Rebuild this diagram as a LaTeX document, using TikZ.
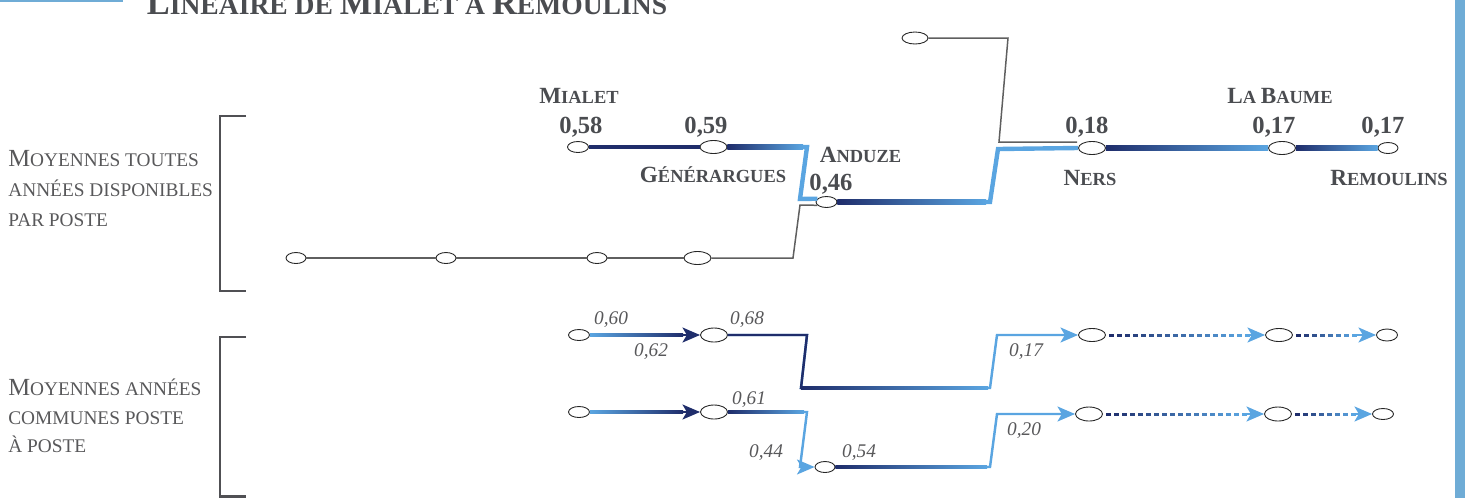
\documentclass[tikz,border=0pt]{standalone}
\usepackage{fontspec}
\setmainfont{Liberation Serif}
\usetikzlibrary{arrows.meta,calc,shapes.geometric}
\definecolor{rivdark}{RGB}{31,45,107}
\definecolor{rivlight}{RGB}{90,165,225}
\definecolor{barblue}{RGB}{111,172,214}
\definecolor{textgray}{RGB}{74,76,80}
\definecolor{labelgray}{RGB}{88,88,90}
\definecolor{linegray}{RGB}{95,95,95}
\definecolor{bracketgray}{RGB}{80,80,84}
% initials of the small caps
\newcommand{\initT}[1]{{\fontsize{19.6pt}{22pt}\selectfont #1}}
\newcommand{\initS}[1]{{\fontsize{13.2pt}{15pt}\selectfont #1}}
\newcommand{\initL}[1]{{\fontsize{14pt}{16pt}\selectfont #1}}

\begin{document}
\begin{tikzpicture}[x=0.02cm, y=-0.02cm,
  stn/.style={ellipse, draw=black!85, fill=white, line width=0.5pt, inner sep=0pt, minimum width=0.42cm, minimum height=0.22cm},
  bigstn/.style={stn, minimum width=0.54cm, minimum height=0.26cm},
  river/.style={line width=2.5pt},
  flow/.style={line width=1.4pt},
  graypath/.style={draw=linegray, line width=0.85pt},
  flowtip/.style={-{Stealth[length=10pt,width=8.5pt,inset=2.5pt]}},
  bracket/.style={draw=bracketgray, line width=1.5pt},
  stname/.style={text=textgray, inner sep=0pt, anchor=base, font=\fontsize{10.5pt}{12pt}\selectfont\bfseries},
  val/.style={text=textgray, inner sep=0pt, anchor=base, font=\fontsize{14pt}{16pt}\selectfont\bfseries},
  fval/.style={text=labelgray, inner sep=0pt, anchor=base, font=\fontsize{11pt}{13pt}\selectfont\itshape},
  sidelabel/.style={text=labelgray, inner sep=0pt, anchor=base west, font=\fontsize{11pt}{13pt}\selectfont}]
  \useasboundingbox (0,0) rectangle (1465,498);
  \draw[barblue, line width=1.2pt] (0,1) -- (123,1);
  \fill[barblue] (1455,0) rectangle (1465,498);
  \node[text=textgray, inner sep=0pt, anchor=base, font=\fontsize{15.7pt}{18pt}\selectfont\bfseries] (title) at (407,14)
    {\initT{L}INÉAIRE DE \initT{M}IALET À \initT{R}EMOULINS};

  % side labels and brackets
  \node[sidelabel] (s1a) at (8,166) {\initL{M}OYENNES TOUTES};
  \node[sidelabel] (s1b) at (8,196.5) {ANNÉES DISPONIBLES};
  \node[sidelabel] (s1c) at (8,226.5) {PAR POSTE};
  \node[sidelabel] (s2a) at (8,395) {\initL{M}OYENNES ANNÉES};
  \node[sidelabel] (s2b) at (8,424.5) {COMMUNES POSTE};
  \node[sidelabel] (s2c) at (8,452) {À POSTE};
  \draw[bracket] (246,116) -- (220,116) -- (220,291) -- (246,291);
  \draw[bracket] (246,337) -- (220,337) -- (220,496.5) -- (246,496.5);

  % stations, all years
  \node[stn] (mialet) at (578,147) {};
  \node[bigstn] (gen) at (713.5,147) {};
  \node[stn] (anduze) at (826.5,202) {};
  \node[bigstn] (ners) at (1092,148) {};
  \node[bigstn] (baume) at (1282,148) {};
  \node[stn, minimum width=0.40cm] (remou) at (1388,148) {};
  \node[stn, minimum width=0.52cm, minimum height=0.24cm] (trib) at (915,38) {};
  \foreach \n/\x in {g1/296, g2/446, g3/597}{\node[stn, minimum width=0.40cm] (\n) at (\x,258) {};}
  \node[bigstn] (g4) at (697.5,258) {};
  \coordinate (tribend) at (1077,142);

  \draw[graypath] (g1.east) -- (g2.west) (g2.east) -- (g3.west) (g3.east) -- (g4.west);
  \draw[graypath] (g4.east) -- (793,258) -- (800,205) -- (anduze.200);
  \draw[graypath] (trib.east) -- (1008,38) -- (999,142) -- (tribend);

  \draw[river, rivdark] (mialet.east) -- (gen.west);
  \draw[river, rivlight] (gen.east) -- (807,147) -- (800,199) -- (anduze.160);
  \shade[left color=rivdark, right color=rivlight] ($(gen.east)+(0,-2.3)$) rectangle (803,149.3);
  \draw[river, rivlight] (anduze.east) -- (990,202) -- (998,149) -- (ners.west);
  \shade[left color=rivdark, right color=rivlight] ($(anduze.east)+(0,-2.3)$) rectangle (986,204.3);
  \foreach \s/\t in {ners/baume, baume/remou}{
    \draw[river, rivlight] (\s.east) -- (\t.west);
    \shade[left color=rivdark, right color=rivlight] ($(\s.east)+(0,-2.3)$) rectangle ($(\t.west)+(0,2.3)$);
  }

  \node[stname] (lmialet) at (579,103) {\initS{M}IALET};
  \node[stname] (lgen) at (713,182) {\initS{G}ÉNÉRARGUES};
  \node[stname] (landuze) at (860.5,162) {\initS{A}NDUZE};
  \node[stname] (lners) at (1090,185) {\initS{N}ERS};
  \node[stname] (lbaume) at (1280,103) {\initS{L}A \initS{B}AUME};
  \node[stname] (lremou) at (1389,185) {\initS{R}EMOULINS};
  \node[val] (v58) at (581,133) {0,58};
  \node[val] (v59) at (706,133) {0,59};
  \node[val] (v46) at (831,190) {0,46};
  \node[val] (v18) at (1087,133) {0,18};
  \node[val] (v17a) at (1274,133) {0,17};
  \node[val] (v17b) at (1383,133) {0,17};

  % stations, common years
  \node[stn] (a1) at (579,335) {};
  \node[bigstn, minimum height=0.28cm] (b1) at (714,335) {};
  \node[bigstn] (c1) at (1092,335) {};
  \node[bigstn] (d1) at (1279,335) {};
  \node[stn, minimum height=0.24cm] (e1) at (1387,335) {};
  \node[stn] (a2) at (579,412) {};
  \node[bigstn, minimum height=0.28cm] (b2) at (714,412) {};
  \node[stn, minimum width=0.40cm] (an2) at (825,467) {};
  \node[bigstn, minimum height=0.28cm] (c2) at (1089,414) {};
  \node[bigstn, minimum height=0.28cm] (d2) at (1278,414) {};
  \node[stn] (e2) at (1383,414) {};

  \foreach \s/\t in {a1/b1, a2/b2}{
    \draw[flow, rivdark, flowtip] (\s.east) -- (\t.west);
    \shade[left color=rivlight, right color=rivdark] ($(\s.east)+(0,-1.4)$) rectangle ($(\t.west)+(-17,1.4)$);
  }
  \draw[flow, rivlight, flowtip] (b1.east) -- (807,335) -- (801,388) -- (990,388) -- (997,335) -- (c1.west);
  \draw[flow, rivdark] (b1.east) -- (807,335) -- (801,388) -- (806,388);
  \shade[left color=rivdark, right color=rivlight] (801,386.6) rectangle (988,389.4);
  \draw[flow, rivlight, flowtip] (b2.east) -- (807,412) -- (800,467) -- (an2.west);
  \shade[left color=rivdark, right color=rivlight] ($(b2.east)+(0,-1.4)$) rectangle (804,413.4);
  \draw[flow, rivlight, flowtip] (an2.east) -- (990,467) -- (997,414) -- (c2.west);
  \shade[left color=rivdark, right color=rivlight] ($(an2.east)+(0,-1.4)$) rectangle (987,468.4);

  % dashed stretches downstream of Ners
  \foreach \s/\t/\cnt in {c1/d1/17, d1/e1/7, c2/d2/17, d2/e2/7}{
    \foreach \i in {0,...,\cnt}{
      \pgfmathtruncatemacro\mix{100-100*\i/\cnt}
      \fill[rivdark!\mix!rivlight] ($(\s.east)+(3+8*\i,-1.5)$) rectangle ++(5,3);
    }
    \draw[flow, rivlight, flowtip] ($(\s.east)+(8*\cnt+8,0)$) -- (\t.west);
  }

  \node[fval] (f60) at (611,324) {0,60};
  \node[fval] (f62) at (651,356) {0,62};
  \node[fval] (f68) at (747,324) {0,68};
  \node[fval] (f17) at (1026,356) {0,17};
  \node[fval] (f61) at (749,404) {0,61};
  \node[fval] (f44) at (766,457) {0,44};
  \node[fval] (f54) at (859,457) {0,54};
  \node[fval] (f20) at (1024,435) {0,20};
\end{tikzpicture}
\end{document}
